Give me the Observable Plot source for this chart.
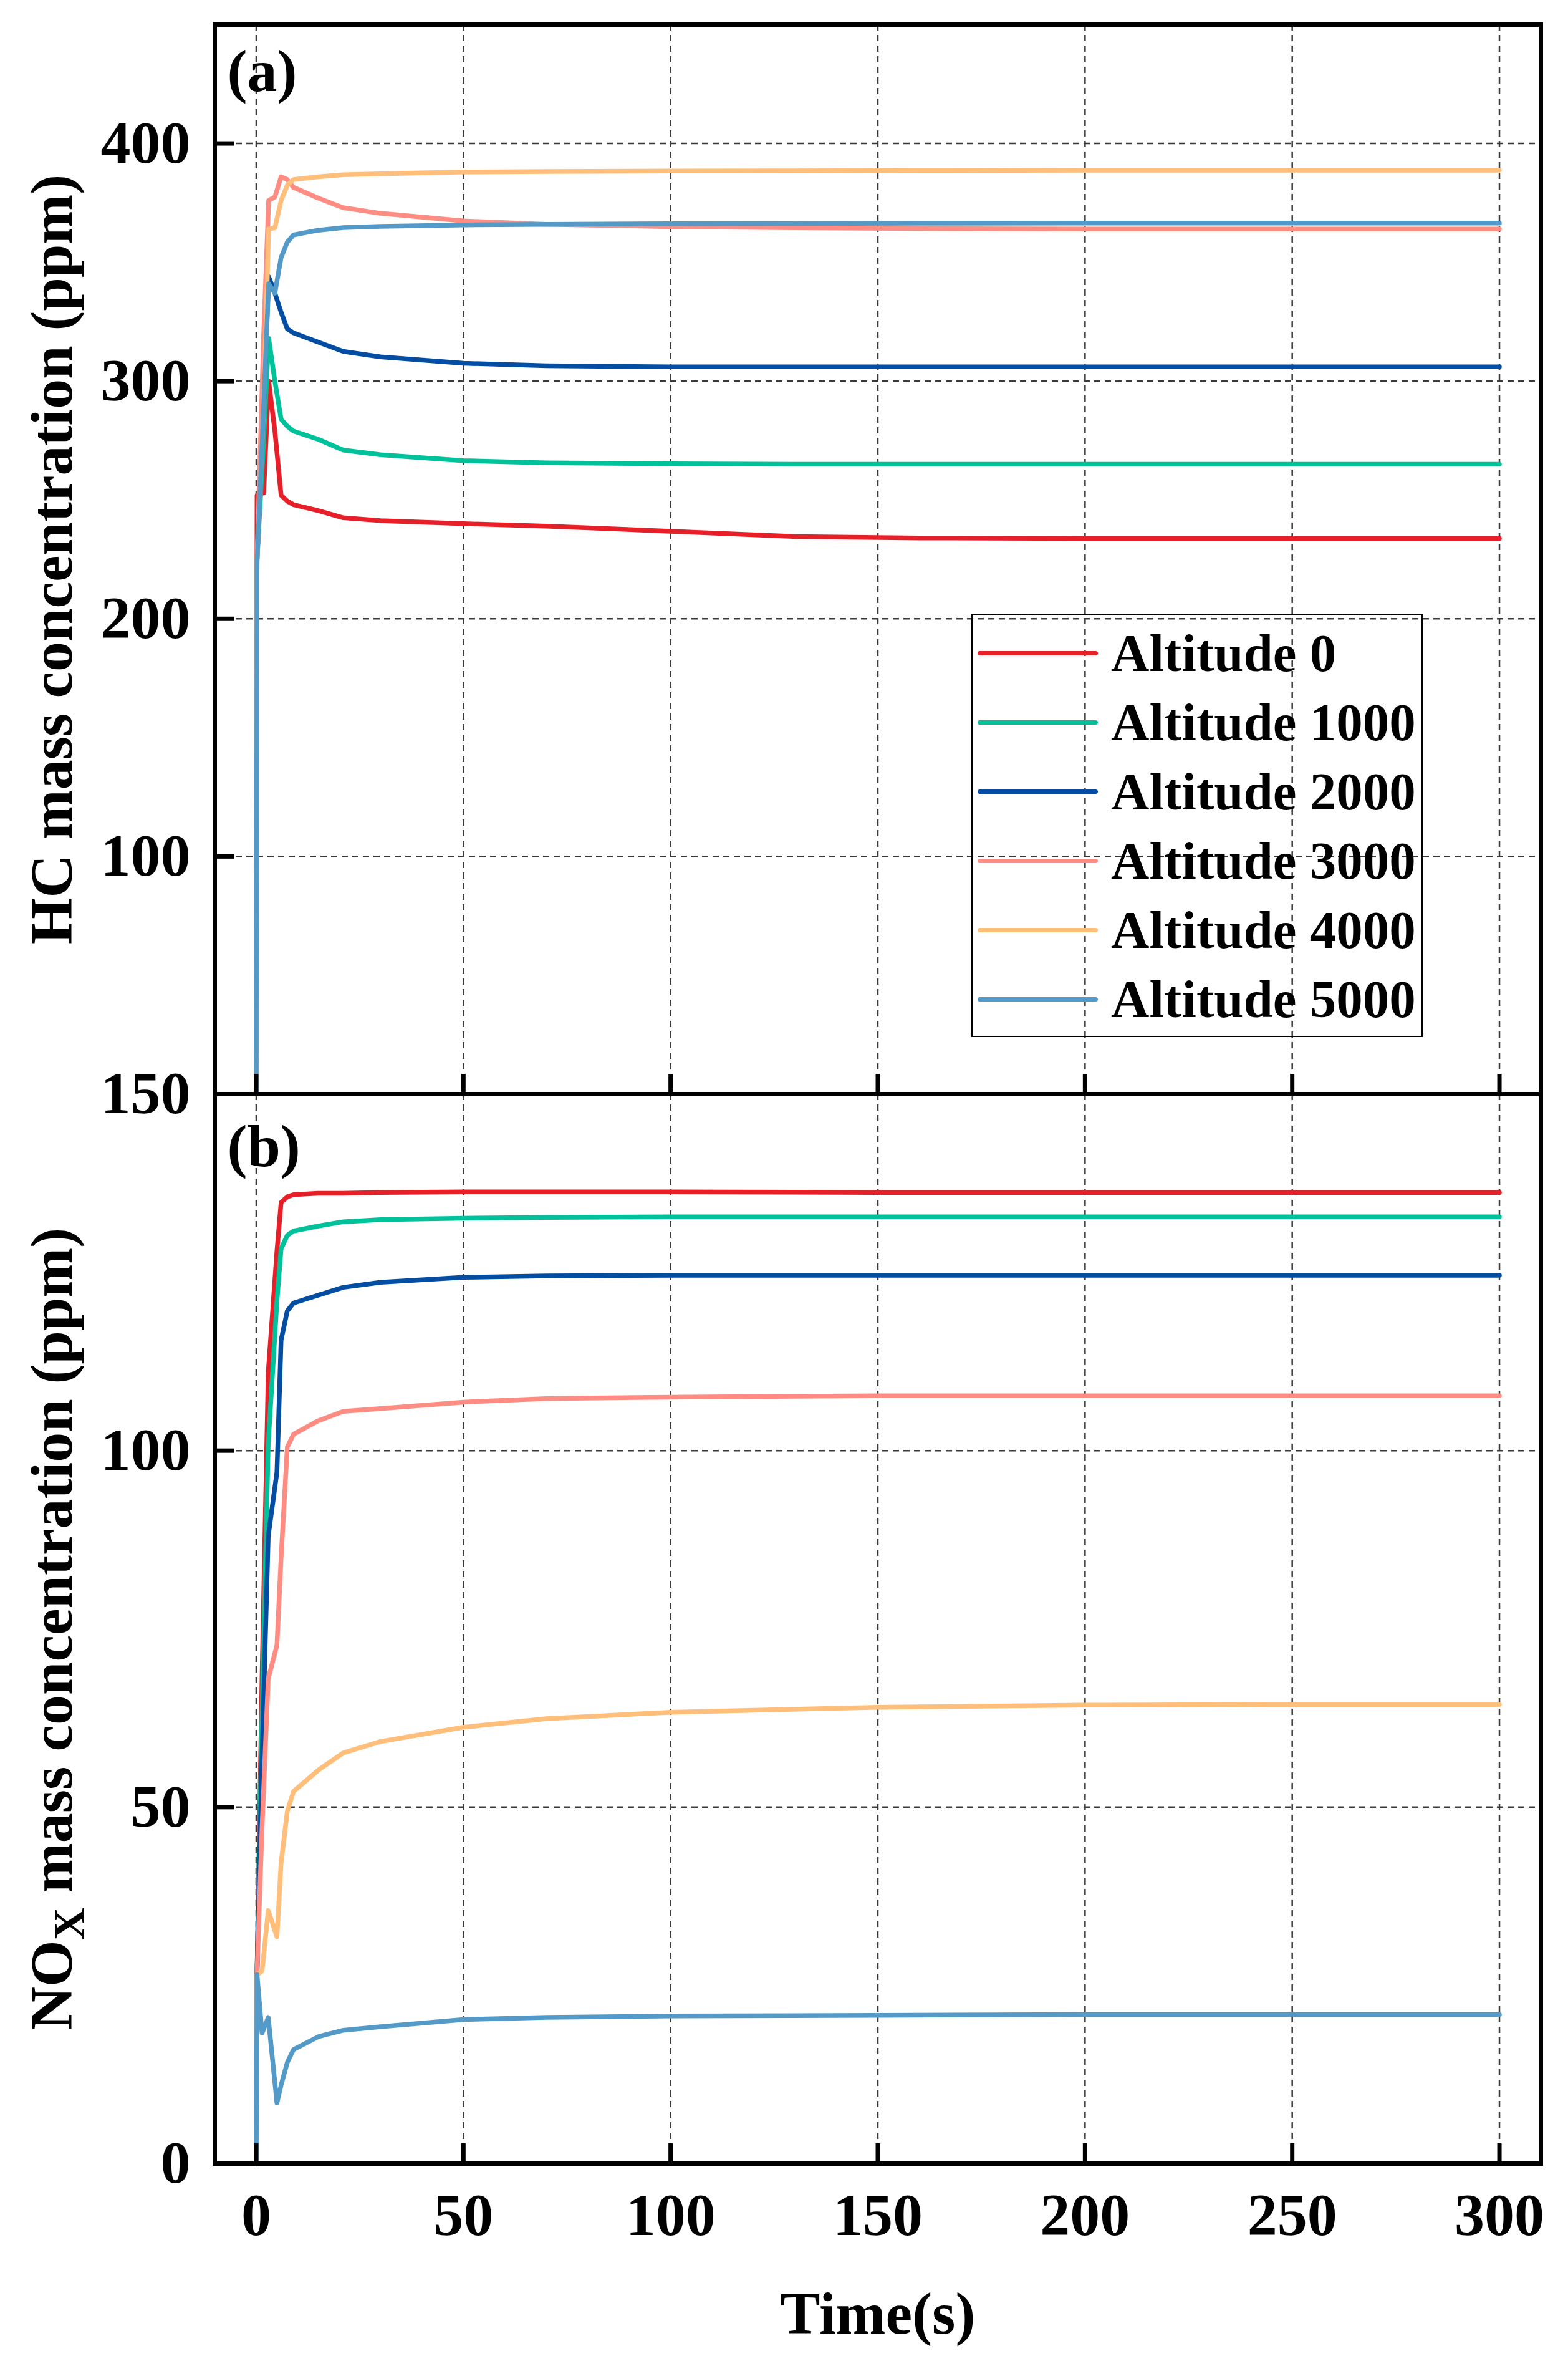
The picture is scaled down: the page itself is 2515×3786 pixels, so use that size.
<!DOCTYPE html>
<html>
<head>
<meta charset="utf-8">
<script src="https://cdn.jsdelivr.net/npm/d3@7"></script>
<script src="https://cdn.jsdelivr.net/npm/@observablehq/plot@0.6"></script>
<style>
  html, body { margin: 0; padding: 0; background: #fff; }
  #grafico { position: relative; width: 2515px; height: 3786px; overflow: hidden;
    font-family: "Liberation Serif", "Times New Roman", serif; font-weight: bold; color: #000; }
  #grafico svg { position: absolute; left: 0; }
  .leyenda { position: absolute; left: 1558px; top: 984px; width: 724px; height: 679px;
    border: 2.5px solid #000; box-sizing: border-box; padding-top: 6px; }
  .fila { display: flex; align-items: center; height: 111px; }
  .muestra { width: 193px; height: 7px; border-radius: 4px; margin-left: 8px; margin-right: 21px; }
  .fila .txt { font-size: 85px; line-height: 111px; white-space: nowrap; }
</style>
</head>
<body>
<div id="grafico"></div>
<script>
const SERIES = ["Altitude 0", "Altitude 1000", "Altitude 2000", "Altitude 3000", "Altitude 4000", "Altitude 5000"];
const COLORES = ["#E71F28", "#00C29A", "#034EA2", "#FF8C82", "#FFBE7A", "#549AC8"];

const X_TICKS = [0, 50, 100, 150, 200, 250, 300];
const HC_TICKS = [100, 200, 300, 400];
const NOX_TICKS = [0, 50, 100, 150];

// (a) HC, ppm
const T_HC = [0, 0.2, 1.8, 3.0, 4.5, 6, 7.5, 9, 15, 21, 30, 50, 70, 100, 130, 160, 200, 250, 300];
const HC_0    = [0, 252, 253, 300, 279, 252, 249.5, 248, 245.5, 242.5, 241.3, 240, 239, 236.8, 234.6, 234, 233.8, 233.8, 233.8];
const HC_1000 = [0, 225, 275, 318, 300, 284, 281, 279, 275.5, 271, 269, 266.5, 265.6, 265.2, 265, 265, 265, 265, 265];
const HC_2000 = [0, 225, 290, 344, 337, 329, 322, 320.3, 316.4, 312.5, 310.2, 307.5, 306.5, 306, 306, 306, 306, 306, 306];
const HC_3000 = [0, 225, 320, 376, 377.5, 386, 384.8, 381.5, 377, 373, 370.6, 367.4, 366, 365, 364.5, 364.2, 364, 364, 364];
const HC_4000 = [0, 225, 290, 364, 364.5, 376, 382.5, 384.8, 386, 386.8, 387.2, 388, 388.2, 388.4, 388.5, 388.6, 388.7, 388.7, 388.7];
const HC_5000 = [0, 224, 290, 341, 337, 352, 358.5, 361.5, 363.5, 364.6, 365.1, 365.7, 366, 366.2, 366.3, 366.4, 366.5, 366.5, 366.5];

// (b) NOx, ppm
const T_NOX = [0, 0.2, 1.4, 2.9, 5.0, 6, 7.5, 9, 15, 21, 30, 50, 70, 100, 150, 200, 250, 300];
const NOX_0    = [0, 27, 68, 111, 128, 134.8, 135.6, 135.9, 136.1, 136.1, 136.2, 136.3, 136.3, 136.3, 136.2, 136.2, 136.2, 136.2];
const NOX_1000 = [0, 27, 63, 101, 121, 128.3, 130.2, 130.8, 131.5, 132.1, 132.4, 132.6, 132.7, 132.8, 132.8, 132.8, 132.8, 132.8];
const NOX_2000 = [0, 27, 57, 88, 97, 115.5, 119.6, 120.7, 121.8, 122.9, 123.6, 124.3, 124.5, 124.6, 124.6, 124.6, 124.6, 124.6];
const NOX_3000 = [0, 27, 47, 68, 72.7, 85, 100.5, 102.3, 104.2, 105.5, 105.9, 106.8, 107.3, 107.5, 107.7, 107.7, 107.7, 107.7];
const NOX_4000 = [0, 26.5, 27, 35.5, 31.8, 42.2, 49.4, 52.2, 55.2, 57.6, 59.2, 61.2, 62.4, 63.3, 64, 64.3, 64.4, 64.4];
const NOX_5000 = [0, 26.5, 18.3, 20.5, 8.5, 11, 14.2, 16, 17.8, 18.7, 19.2, 20.2, 20.5, 20.7, 20.8, 20.9, 20.9, 20.9];

(function () {
  const ANCHO = 2515, M_IZQ = 344, M_DER = 44, ALTO_PANEL = 1715;
  const ANCHO_PANEL = ANCHO - M_IZQ - M_DER;
  const TICK = 32;
  const FUENTE = '"Liberation Serif", "Times New Roman", serif';
  const REJILLA = { stroke: "#3a3a3a", strokeWidth: 2.5, strokeDasharray: "10,7" };

  function filas(tiempos, listas) {
    return SERIES.flatMap((s, i) => tiempos.map((t, k) => ({ serie: s, t, v: listas[i][k] })));
  }

  function panel(o) {
    const datos = filas(o.tiempos, o.listas);
    const marks = [
      Plot.ruleX(X_TICKS, { x: (d) => d, ...REJILLA }),
      Plot.ruleY(o.yTicks, { y: (d) => d, ...REJILLA }),
      Plot.line(datos, {
        x: "t", y: "v", z: "serie", stroke: "serie",
        strokeWidth: 7.5, strokeLinejoin: "round", strokeLinecap: "round",
      }),
      // ticks hacia dentro
      Plot.tickX(X_TICKS, { x: (d) => d, insetTop: ALTO_PANEL - TICK, stroke: "#000", strokeWidth: 7 }),
      Plot.tickY(o.yTicks, { y: (d) => d, insetRight: ANCHO_PANEL - TICK, stroke: "#000", strokeWidth: 7 }),
      Plot.frame({ stroke: "#000", strokeWidth: 7 }),
      Plot.axisY(o.yTicks, {
        tickSize: 0, tickPadding: 39, label: o.etiqueta, labelAnchor: "center",
        labelOffset: 298, labelArrow: "none",
      }),
      Plot.text([o.letra], {
        text: (d) => d, frameAnchor: "top-left", dx: 20, dy: o.letraDy,
        lineAnchor: "top", textAnchor: "start",
      }),
    ];
    if (o.ejeX) {
      marks.push(Plot.axisX(X_TICKS, {
        tickSize: 0, tickPadding: 46, label: "Time(s)", labelAnchor: "center",
        labelOffset: 272, labelArrow: "none",
      }));
    }
    return Plot.plot({
      width: ANCHO, height: o.mTop + ALTO_PANEL + o.mBottom,
      marginLeft: M_IZQ, marginRight: M_DER, marginTop: o.mTop, marginBottom: o.mBottom,
      style: {
        background: "transparent", overflow: "visible", color: "#000",
        fontFamily: FUENTE, fontSize: "96px", fontWeight: "bold",
      },
      x: { domain: [-10, 310], axis: o.ejeX ? undefined : null },
      y: { domain: o.yDominio },
      color: { domain: SERIES, range: COLORES },
      marks,
    });
  }

  // NOX -> NO con X en subíndice
  function subindice(svg) {
    const t = [...svg.querySelectorAll("text")].find((e) => e.textContent.startsWith("NOX"));
    if (!t) return;
    const ns = "http://www.w3.org/2000/svg";
    t.textContent = "";
    const a = document.createElementNS(ns, "tspan");
    a.textContent = "NO";
    const b = document.createElementNS(ns, "tspan");
    b.textContent = "X";
    b.setAttribute("font-size", "72");
    b.setAttribute("baseline-shift", "-20");
    const c = document.createElementNS(ns, "tspan");
    c.textContent = " mass concentration (ppm)";
    t.append(a, b, c);
  }

  const host = document.getElementById("grafico");

  const svgA = panel({
    tiempos: T_HC, listas: [HC_0, HC_1000, HC_2000, HC_3000, HC_4000, HC_5000],
    yDominio: [0, 450], yTicks: HC_TICKS, etiqueta: "HC mass concentration (ppm)",
    letra: "(a)", letraDy: 38, mTop: 39, mBottom: 0, ejeX: false,
  });
  svgA.style.top = "0px";

  const svgB = panel({
    tiempos: T_NOX, listas: [NOX_0, NOX_1000, NOX_2000, NOX_3000, NOX_4000, NOX_5000],
    yDominio: [0, 150], yTicks: NOX_TICKS, etiqueta: "NOX mass concentration (ppm)",
    letra: "(b)", letraDy: 47, mTop: 60, mBottom: 317, ejeX: true,
  });
  svgB.style.top = (39 + ALTO_PANEL - 60) + "px";
  subindice(svgB);

  host.appendChild(svgA);
  host.appendChild(svgB);

  // leyenda dentro del panel (a)
  const ley = document.createElement("div");
  ley.className = "leyenda";
  SERIES.forEach((s, i) => {
    const f = document.createElement("div");
    f.className = "fila";
    f.innerHTML = `<span class="muestra" style="background:${COLORES[i]}"></span><span class="txt">${s}</span>`;
    ley.appendChild(f);
  });
  host.appendChild(ley);
})();
</script>
</body>
</html>
